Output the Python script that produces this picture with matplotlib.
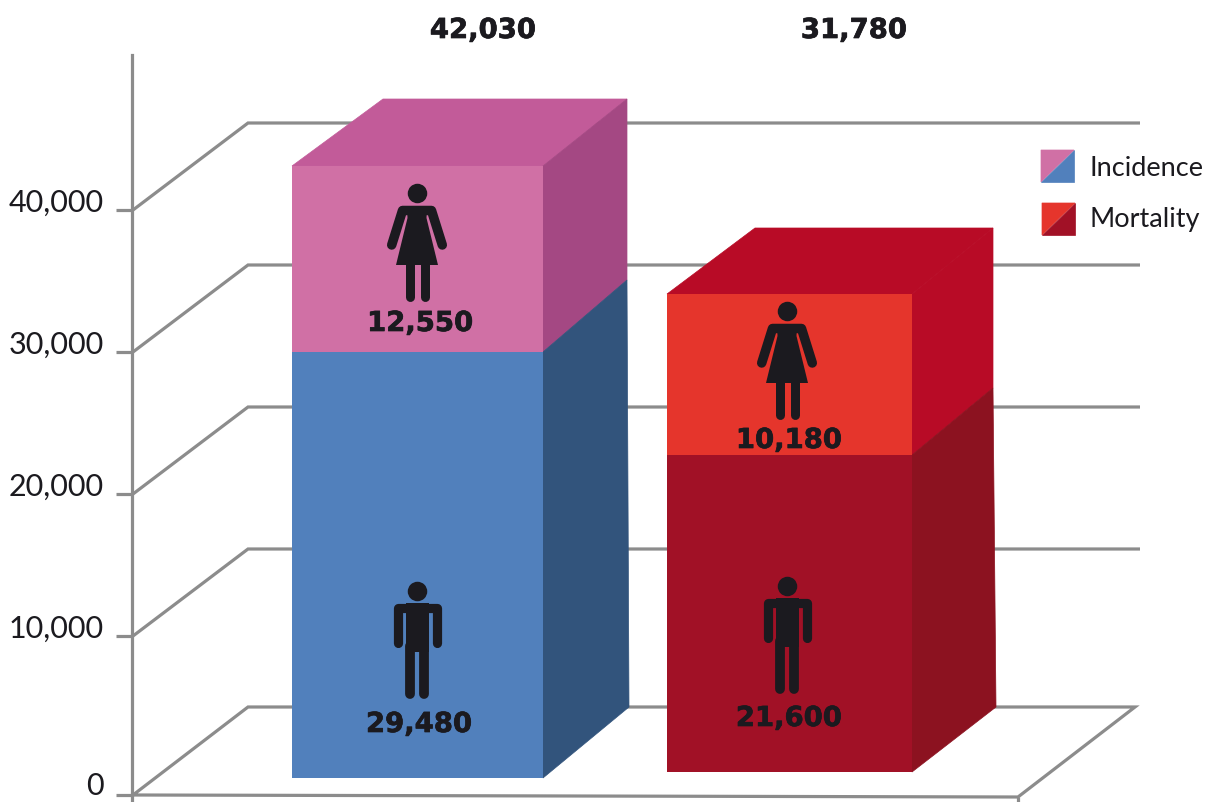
import matplotlib
matplotlib.use("Agg")
import matplotlib.pyplot as plt
import matplotlib.patheffects as pe
from matplotlib.patches import Polygon

# ---- data ----
categories = ["Incidence", "Mortality"]
male_values = [29480, 21600]
female_values = [12550, 10180]
totals = ["42,030", "31,780"]
male_labels = ["29,480", "21,600"]
female_labels = ["12,550", "10,180"]
tick_values = [10000, 20000, 30000, 40000]
tick_labels = ["0", "10,000", "20,000", "30,000", "40,000"]

# ---- style / geometry ----
W, H = 1210, 802
K = 0.0142            # pixels per unit on the back wall
ZERO = 778            # pixel row of the linear zero
GREY = "#8c8c8c"
INK = "#1b1a1f"
LW = 3.2 * 0.72
AXIS_ZERO_PX = 795
lefts = [292, 667]
rights = [543, 912]
base_px = [778, 772]
male_stretch = [1.0177, 1.0335]
female_stretch = [1.0437, 1.1137]
male_col = ["#5180BC", "#A11126"]
female_col = ["#D070A5", "#E5352C"]
top_col = ["#C25B99", "#B80B26"]
side_up_col = ["#A44883", "#B80B26"]
side_low_col = ["#32547C", "#8C1220"]
top_back_left = [383, 755]
back_right = [(627, 627, 629), (993, 993, 996)]   # top, mid, bottom
back_rows = [(99, 280, 707), (228, 388, 707)]
head_x = [417, 787]
woman_head_px = [193, 311]
man_head_px = [591, 586]
male_lab_xy = [(419, 732), (789, 726)]
female_lab_xy = [(420, 331), (789, 448)]
total_xy = [(483, 38), (854, 38)]


def Y(px):
    return (ZERO - px) / K


fig = plt.figure(figsize=(W / 100, H / 100), dpi=100)
ax = fig.add_axes([0, 0, 1, 1])
ax.set_xlim(0, W)
ax.set_ylim(Y(H), Y(0))
ax.patch.set_visible(False)
for s in ["top", "right", "bottom"]:
    ax.spines[s].set_visible(False)
ax.spines["left"].set_position(("data", 132))
ax.spines["left"].set_bounds(Y(H), Y(55))
ax.spines["left"].set_color(GREY)
ax.spines["left"].set_linewidth(LW)
ax.set_xticks([])
ax.set_yticks([Y(AXIS_ZERO_PX)] + [v - 2 / K for v in tick_values])
ax.set_yticklabels(tick_labels, fontfamily="Lato", fontweight="normal",
                   fontsize=22, color=INK, va="baseline")
ax.tick_params(axis="y", length=0, pad=20.5)
# tick marks sit 2 px above the label baselines
for v in [Y(AXIS_ZERO_PX)] + tick_values:
    ax.plot([116, 132], [v, v], color=GREY, lw=LW, solid_capstyle="butt", zorder=2)


def pline(xs, ys, **kw):
    ax.plot(xs, [Y(p) for p in ys], color=kw.pop("color", GREY),
            lw=kw.pop("lw", LW), solid_capstyle="butt", **kw)


# wall and floor
for wall_row, axis_row in zip([123, 265, 407, 549], [210, 352, 494, 636]):
    pline([133, 248, 1140], [axis_row, wall_row, wall_row], zorder=1,
          solid_joinstyle="miter")
pline([133, 248, 1135, 1018, 133], [795, 707, 707, 797, 795], zorder=1,
      solid_joinstyle="miter")
pline([1018, 1018], [797, 802], zorder=1)


def poly(pts, col, z=3, edge=0.5):
    ax.add_patch(Polygon([(x, Y(p)) for x, p in pts], closed=True, fc=col,
                         ec=col if edge else "none", lw=edge, zorder=z))


# bars
for i in range(2):
    x0, x1 = lefts[i], rights[i]
    b = Y(base_px[i])
    mh = male_values[i] * male_stretch[i]
    fh = female_values[i] * female_stretch[i]
    ax.bar(x0, mh, bottom=b, width=x1 - x0, align="edge", color=male_col[i], zorder=4)
    ax.bar(x0, fh, bottom=b + mh, width=x1 - x0, align="edge", color=female_col[i], zorder=4)
    mid_px = ZERO - (b + mh) * K
    top_px = ZERO - (b + mh + fh) * K
    (bt, bm, bb) = back_rows[i]
    (xt, xm, xb) = back_right[i]
    poly([(x0, top_px), (x1, top_px), (xt, bt), (top_back_left[i], bt)], top_col[i])
    poly([(x1, top_px), (xt, bt), (xm, bm), (x1, mid_px)], side_up_col[i])
    poly([(x1, mid_px), (xm, bm), (xb, bb), (x1, base_px[i])], side_low_col[i])


def stroke(cx, cy, xs, ys, lw):
    ax.plot([cx + v for v in xs], [Y(cy + v) for v in ys], color=INK, lw=lw * 0.72,
            solid_capstyle="round", solid_joinstyle="round", zorder=6)


def head(cx, cy):
    ax.plot([cx], [Y(cy)], "o", ms=19.5 * 0.72, mfc=INK, mec="none", zorder=6)


def man(cx, cy):
    head(cx, cy)
    stroke(cx, cy, [-19.5, -19.5, 19.5, 19.5], [52, 16.5, 16.5, 52], 9.2)
    poly([(cx - 11.5, cy + 12), (cx + 11.5, cy + 12), (cx + 11.5, cy + 61),
          (cx - 11.5, cy + 61)], INK, 6, edge=0)
    stroke(cx, cy, [-6.8, -6.8], [55, 103], 9.8)
    stroke(cx, cy, [6.8, 6.8], [55, 103], 9.8)


def woman(cx, cy):
    head(cx, cy)
    stroke(cx, cy, [-25.3, -14.5, 14.5, 25.3], [52, 17.5, 17.5, 52], 9.5)
    poly([(cx - 10, cy + 13), (cx + 10, cy + 13), (cx + 9.5, cy + 25), (cx + 21, cy + 72),
          (cx - 21, cy + 72), (cx - 9.5, cy + 25)], INK, 6, edge=0)
    stroke(cx, cy, [-7.5, -7.5], [70, 103.5], 9)
    stroke(cx, cy, [7.5, 7.5], [70, 103.5], 9)


for i in range(2):
    woman(head_x[i], woman_head_px[i])
    man(head_x[i], man_head_px[i])


def label(txt, xy, size=19.8):
    t = ax.text(xy[0], Y(xy[1]), txt, ha="center", va="baseline", fontfamily="DejaVu Sans",
                fontweight="bold", fontsize=size, color=INK, zorder=7)
    t.set_path_effects([pe.withStroke(linewidth=0.5, foreground=INK)])


for i in range(2):
    label(totals[i], total_xy[i])
    label(male_labels[i], male_lab_xy[i])
    label(female_labels[i], female_lab_xy[i])

# legend
swatches = [(1041, 150, 33, 32), (1042, 203, 33, 32)]
swatch_cols = [(female_col[0], male_col[0]), (female_col[1], male_col[1])]
legend_xy = [(1089, 168), (1089, 220)]
for (x, y, w, h), (c1, c2), name, (tx, ty) in zip(swatches, swatch_cols, categories, legend_xy):
    poly([(x, y), (x + w, y), (x, y + h)], c1, 5)
    poly([(x + w, y), (x + w, y + h), (x, y + h)], c2, 5)
    ax.text(tx, Y(ty), name, ha="left", va="center", fontfamily="Lato", fontweight="normal",
            fontsize=19.5, color=INK, zorder=7)

fig.savefig("out.png", dpi=100)
